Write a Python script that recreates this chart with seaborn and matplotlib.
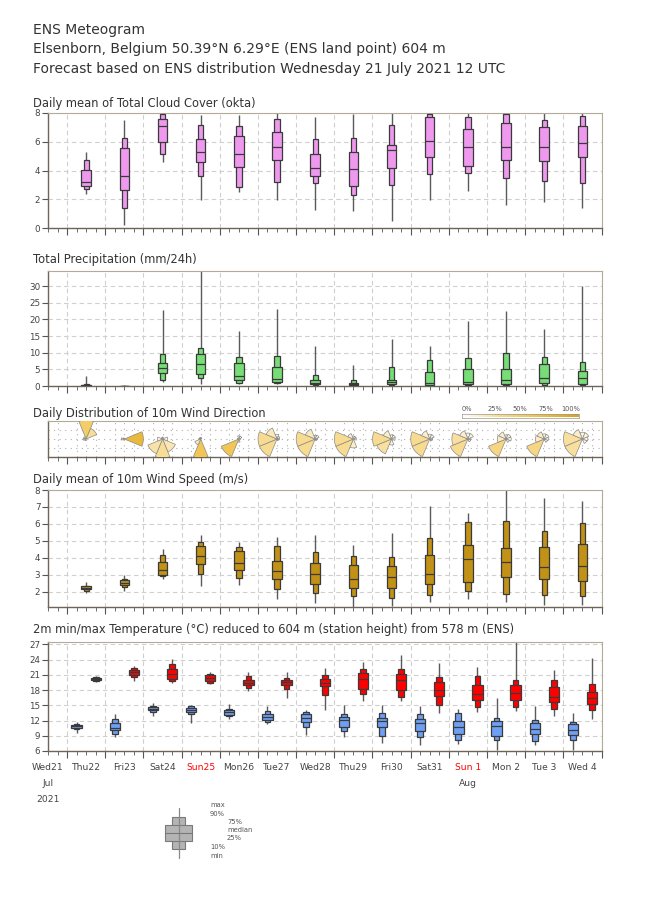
import numpy as np
import pandas as pd
import matplotlib
matplotlib.use("Agg")
import matplotlib.pyplot as plt
import seaborn as sns
from matplotlib.patches import Polygon, Rectangle
from matplotlib.colors import LinearSegmentedColormap

sns.set_theme(style="white")
plt.rcParams['font.family'] = ['DejaVu Sans']

# ---- data ----
day_labels = ['Wed21', 'Thu22', 'Fri23', 'Sat24', 'Sun25', 'Mon26', 'Tue27', 'Wed28',
              'Thu29', 'Fri30', 'Sat31', 'Sun 1', 'Mon 2', 'Tue 3', 'Wed 4']
sunday_idx = [4, 11]
day_pos = np.arange(1, 15)          # daily boxes at 12 UTC (days after Wed21 12 UTC)

# total cloud cover (okta)
cc_max = [5.31, 7.53, 7.95, 7.86, 7.86, 8.0, 7.74, 7.93, 8.0, 8.0, 8.0, 8.0, 8.0, 8.0]
cc_p90 = [4.76, 6.25, 7.9, 7.16, 7.09, 7.55, 6.2, 6.25, 7.18, 7.95, 7.69, 7.9, 7.5, 7.79]
cc_p75 = [4.06, 5.57, 7.58, 6.18, 6.41, 6.67, 5.13, 5.31, 5.8, 7.69, 6.92, 7.27, 7.06, 7.13]
cc_med = [3.22, 3.64, 7.09, 5.27, 5.17, 5.66, 4.2, 4.08, 5.45, 6.06, 5.66, 5.66, 5.66, 5.94]
cc_p25 = [2.94, 2.66, 6.01, 4.62, 4.24, 4.71, 3.61, 2.94, 4.17, 4.94, 4.34, 4.73, 4.69, 4.92]
cc_p10 = [2.70, 1.42, 5.17, 3.64, 2.84, 3.22, 3.10, 2.33, 3.0, 3.78, 3.82, 3.47, 3.29, 3.12]
cc_min = [2.35, 0.19, 4.59, 1.98, 2.49, 1.93, 1.24, 1.17, 0.51, 1.96, 2.56, 1.59, 1.82, 1.38]

# total precipitation (mm/24h)
pr_max = [3.0, 0.2, 22.8, 36.0, 16.6, 23.0, 12.0, 6.3, 14.1, 12.0, 19.5, 22.5, 17.0, 30.0]
pr_p90 = [0.6, 0.1, 9.5, 11.5, 8.6, 8.9, 3.4, 1.7, 5.8, 7.7, 8.3, 10.0, 8.7, 7.3]
pr_p75 = [0.4, 0.05, 7.0, 9.5, 7.0, 5.6, 1.8, 1.0, 1.8, 4.2, 5.0, 5.2, 6.5, 4.4]
pr_med = [0.2, 0.02, 5.3, 6.5, 3.0, 2.2, 1.0, 0.7, 1.1, 1.0, 1.1, 1.8, 2.3, 2.4]
pr_p25 = [0.05, 0.0, 3.8, 3.5, 1.7, 1.2, 0.5, 0.3, 0.5, 0.4, 0.5, 0.5, 0.8, 0.5]
pr_p10 = [0.0, 0.0, 1.8, 2.3, 1.0, 0.8, 0.3, 0.1, 0.2, 0.1, 0.2, 0.2, 0.3, 0.2]
pr_min = [0.0, 0.0, 1.1, 0.5, 0.6, 0.5, 0.1, 0.0, 0.0, 0.0, 0.0, 0.0, 0.0, 0.0]

# wind direction frequencies per sector (sector points towards N, NE, ... on the plot)
wd_N = [0.50, 0.03, 0.03, 0.05, 0.10, 0.08, 0.06, 0.05, 0.07, 0.08, 0.10, 0.08, 0.10, 0.10]
wd_NE = [0.30, 0.02, 0.02, 0.04, 0.10, 0.05, 0.07, 0.05, 0.07, 0.08, 0.10, 0.10, 0.10, 0.10]
wd_E = [0.00, 0.75, 0.08, 0.00, 0.05, 0.04, 0.04, 0.05, 0.06, 0.05, 0.05, 0.10, 0.08, 0.08]
wd_SE = [0.00, 0.00, 0.22, 0.00, 0.00, 0.03, 0.03, 0.00, 0.00, 0.04, 0.05, 0.07, 0.07, 0.07]
wd_S = [0.00, 0.00, 0.30, 0.60, 0.10, 0.00, 0.00, 0.15, 0.10, 0.00, 0.00, 0.00, 0.00, 0.00]
wd_SW = [0.05, 0.05, 0.25, 0.20, 0.60, 0.32, 0.32, 0.32, 0.27, 0.32, 0.32, 0.37, 0.37, 0.28]
wd_W = [0.08, 0.12, 0.08, 0.06, 0.05, 0.32, 0.32, 0.32, 0.32, 0.32, 0.27, 0.17, 0.17, 0.28]
wd_NW = [0.07, 0.05, 0.02, 0.05, 0.00, 0.20, 0.18, 0.10, 0.15, 0.15, 0.15, 0.15, 0.15, 0.15]
sector_angles = [0, 45, 90, 135, 180, 225, 270, 315]

# 10m wind speed (m/s)
ws_max = [2.56, 2.96, 4.52, 5.36, 4.96, 5.2, 5.36, 4.76, 5.46, 7.06, 6.66, 8.0, 7.5, 7.38]
ws_p90 = [2.36, 2.76, 4.16, 4.96, 4.66, 4.7, 4.32, 4.08, 4.02, 5.14, 6.12, 6.2, 5.6, 6.06]
ws_p75 = [2.32, 2.7, 3.76, 4.7, 4.42, 3.84, 3.7, 3.6, 3.5, 4.18, 4.76, 4.58, 4.66, 4.82]
ws_med = [2.24, 2.54, 3.3, 4.08, 3.72, 3.22, 3.06, 2.78, 2.86, 3.04, 3.96, 3.78, 3.46, 3.54]
ws_p25 = [2.14, 2.4, 2.98, 3.66, 3.3, 2.76, 2.46, 2.2, 2.24, 2.46, 2.58, 2.88, 2.76, 2.64]
ws_p10 = [2.06, 2.3, 2.9, 3.04, 2.82, 2.18, 1.94, 1.76, 1.62, 1.82, 2.06, 1.84, 1.8, 1.74]
ws_min = [1.92, 2.02, 2.76, 2.32, 2.42, 1.56, 1.36, 1.1, 1.18, 1.4, 1.56, 1.4, 1.2, 1.22]

# 2m minimum temperature (06 UTC) and maximum temperature (18 UTC)
tn_pos = day_pos - 0.25
tx_pos = day_pos + 0.25
tn_max = [11.66, 13.24, 15.35, 15.08, 15.22, 14.82, 14.16, 15.02, 15.15, 14.95, 14.23, 16.4, 14.95, 13.5]
tn_p90 = [11.33, 12.25, 14.95, 14.76, 14.3, 13.83, 13.7, 13.31, 13.5, 13.24, 13.5, 12.58, 12.19, 11.79]
tn_p75 = [11.2, 11.53, 14.69, 14.56, 14.03, 13.37, 13.24, 12.65, 12.58, 12.25, 11.99, 11.92, 11.59, 11.4]
tn_med = [10.87, 10.6, 14.36, 14.16, 13.64, 12.78, 12.58, 12.19, 11.92, 11.46, 10.74, 10.87, 10.28, 10.21]
tn_p25 = [10.6, 10.08, 14.03, 13.64, 13.18, 12.19, 11.66, 10.74, 10.67, 9.88, 9.42, 8.9, 9.29, 9.22]
tn_p10 = [10.34, 9.42, 13.64, 13.24, 12.91, 11.66, 10.74, 9.88, 9.03, 8.83, 8.24, 8.24, 7.97, 8.24]
tn_min = [9.62, 8.7, 12.91, 11.53, 12.38, 11.33, 9.1, 8.76, 7.65, 7.12, 7.45, 6.13, 7.25, 6.26]

tx_max = [20.75, 22.65, 24.1, 21.47, 21.6, 21.47, 22.3, 23.44, 24.89, 23.24, 22.52, 28.5, 21.93, 24.3]
tx_p90 = [20.48, 22.33, 23.05, 21.14, 20.81, 20.42, 21.0, 22.13, 22.13, 20.48, 20.68, 20.02, 19.89, 19.17]
tx_p75 = [20.35, 21.93, 22.06, 20.88, 19.96, 20.02, 20.2, 21.27, 21.07, 19.56, 18.97, 18.9, 18.57, 17.58]
tx_med = [20.15, 21.47, 21.07, 20.35, 19.43, 19.5, 19.4, 20.22, 19.96, 17.92, 17.12, 17.45, 16.66, 16.4]
tx_p25 = [19.9, 20.88, 20.22, 19.69, 18.9, 18.9, 18.8, 18.18, 17.98, 16.73, 15.94, 16.0, 15.61, 15.28]
tx_p10 = [19.76, 20.48, 19.82, 19.36, 18.37, 18.11, 17.0, 17.12, 16.53, 15.08, 14.62, 14.69, 14.36, 14.16]
tx_min = [19.5, 19.76, 19.36, 19.1, 17.85, 16.47, 14.0, 15.8, 15.87, 13.5, 13.7, 13.9, 12.85, 12.25]

# ---- figure ----
W, H = 650, 916
fig = plt.figure(figsize=(W / 100, H / 100), dpi=100)
XMAX = 14.5
TXT = '#333333'


def panel(top, bottom):
    ax = fig.add_axes([48 / W, 1 - bottom / H, 553.5 / W, (bottom - top) / H])
    ax.set_xlim(0, XMAX)
    ax.set_xticks(np.arange(0.5, XMAX + 0.01, 1))
    ax.set_xticks(np.arange(0, XMAX + 0.01, 0.25), minor=True)
    ax.tick_params(axis='x', which='major', length=5, width=0.8, color='#555', labelbottom=False, bottom=True)
    ax.tick_params(axis='x', which='minor', length=3, width=0.6, color='#555', bottom=True)
    ax.tick_params(axis='y', length=4, width=0.8, color='#555', labelsize=6.3, labelcolor='#444', pad=1.5, left=True)
    for s in ['left', 'bottom']:
        ax.spines[s].set_color('#6e6557')
        ax.spines[s].set_linewidth(1.0)
    for s in ['top', 'right']:
        ax.spines[s].set_color('#b3aa9c')
        ax.spines[s].set_linewidth(0.8)
    ax.grid(True, which='major', color='#cfcfcf', linestyle=(0, (4, 3)), linewidth=0.8)
    ax.set_axisbelow(True)
    return ax


def title(y, s):
    fig.text(33 / W, 1 - y / H, s, fontsize=8.3, color=TXT, va='center')


def boxes(ax, x, mn, p10, p25, med, p75, p90, mx, color, wide=0.25, narrow=0.14):
    ax.vlines(x, mn, mx, color='#5a5a5a', lw=1.0, zorder=2)
    ax.bar(x, np.subtract(p90, p10), bottom=p10, width=narrow, color=color,
           edgecolor='#3a3a3a', linewidth=0.9, zorder=3)
    ax.bar(x, np.subtract(p75, p25), bottom=p25, width=wide, color=color,
           edgecolor='#3a3a3a', linewidth=0.9, zorder=4)
    ax.hlines(med, np.asarray(x) - wide / 2, np.asarray(x) + wide / 2, color='#3a3a3a', lw=0.9, zorder=5)


# header
fig.text(33 / W, 1 - 30 / H, 'ENS Meteogram', fontsize=10, color=TXT, va='center')
fig.text(33 / W, 1 - 49.5 / H, 'Elsenborn, Belgium 50.39°N 6.29°E (ENS land point) 604 m',
         fontsize=10, color=TXT, va='center')
fig.text(33 / W, 1 - 69 / H, 'Forecast based on ENS distribution Wednesday 21 July 2021 12 UTC',
         fontsize=10, color=TXT, va='center')

# cloud cover
ax1 = panel(113, 228)
title(103, 'Daily mean of Total Cloud Cover (okta)')
ax1.set_ylim(0, 8)
ax1.set_yticks([0, 2, 4, 6, 8])
boxes(ax1, day_pos, cc_min, cc_p10, cc_p25, cc_med, cc_p75, cc_p90, cc_max, '#ee99ee')

# precipitation
ax2 = panel(271, 386)
title(260, 'Total Precipitation (mm/24h)')
ax2.set_ylim(0, 34.5)
ax2.set_yticks(np.arange(0, 31, 5))
boxes(ax2, day_pos, pr_min, pr_p10, pr_p25, pr_med, pr_p75, pr_p90, pr_max, '#77dd77')

# wind direction roses
ax3 = panel(421, 457)
title(413, 'Daily Distribution of 10m Wind Direction')
ax3.set_ylim(-1, 1)
ax3.set_yticks([-0.5, 0, 0.5])
ax3.tick_params(axis='y', left=False, labelleft=False)
ax3.grid(False)
ax3.set_xticks(np.arange(0, XMAX + 0.01, 0.25), minor=True)
ax3.grid(True, which='minor', axis='x', color='#b0b0b0', linestyle=(0, (1, 4)), linewidth=0.8)
ax3.grid(True, which='major', axis='y', color='#b0b0b0', linestyle=(0, (1, 4)), linewidth=0.8)

rose_cmap = LinearSegmentedColormap.from_list('rose', ['#ffffff', '#f7d98a', '#efc146', '#d9a21a'])
px_x = ax3.get_position().width * W / XMAX
px_y = ax3.get_position().height * H / 2.0
wd = pd.DataFrame({'N': wd_N, 'NE': wd_NE, 'E': wd_E, 'SE': wd_SE,
                   'S': wd_S, 'SW': wd_SW, 'W': wd_W, 'NW': wd_NW})
R = 19.0
for i, (_, row) in enumerate(wd.iterrows()):
    cx = day_pos[i]
    fmax = row.max()
    for ang, f in zip(sector_angles, row.values):
        if f <= 0:
            continue
        r = R * f / fmax
        th = np.radians(np.linspace(ang - 22.5, ang + 22.5, 10))
        xs = np.concatenate([[cx], cx + r * np.sin(th) / px_x])
        ys = np.concatenate([[0], r * np.cos(th) / px_y])
        ax3.add_patch(Polygon(np.column_stack([xs, ys]), closed=True,
                              facecolor=rose_cmap(f), edgecolor='#8a8a8a', linewidth=0.5, zorder=3))

# colour legend for the roses
cax = fig.add_axes([462 / W, 1 - 417.5 / H, 117 / W, 3.5 / H])
cax.imshow(np.linspace(0, 1, 256)[None, :], aspect='auto', cmap=rose_cmap)
cax.set_xticks([])
cax.set_yticks([])
for s in cax.spines.values():
    s.set_color('#999')
    s.set_linewidth(0.5)
for xp, lab in zip([467, 494.7, 520.3, 545.7, 570.7], ['0%', '25%', '50%', '75%', '100%']):
    fig.text(xp / W, 1 - 409 / H, lab, fontsize=4.8, color='#555', ha='center', va='center')

# wind speed
ax4 = panel(490, 607)
title(480, 'Daily mean of 10m Wind Speed (m/s)')
ax4.set_ylim(1.1, 8)
ax4.set_yticks(np.arange(2, 9, 1))
boxes(ax4, day_pos, ws_min, ws_p10, ws_p25, ws_med, ws_p75, ws_p90, ws_max, '#c19216')

# temperature
ax5 = panel(642, 751)
title(630, '2m min/max Temperature (°C) reduced to 604 m (station height) from 578 m (ENS)')
ax5.set_ylim(6, 27.45)
ax5.set_yticks(np.arange(6, 28, 3))
boxes(ax5, tn_pos, tn_min, tn_p10, tn_p25, tn_med, tn_p75, tn_p90, tn_max, '#6f9ff2', wide=0.27, narrow=0.15)
boxes(ax5, tx_pos, tx_min, tx_p10, tx_p25, tx_med, tx_p75, tx_p90, tx_max, '#ff0000', wide=0.27, narrow=0.15)

# day labels under the bottom panel
for i, lab in enumerate(day_labels):
    ax5.annotate(lab, xy=(i, 0), xycoords=('data', 'axes fraction'), xytext=(0, -16),
                 textcoords='offset pixels', ha='center', va='center', fontsize=6.6,
                 color='#ff0000' if i in sunday_idx else '#444')
ax5.annotate('Jul', xy=(0, 0), xycoords=('data', 'axes fraction'), xytext=(0, -33),
             textcoords='offset pixels', ha='center', va='center', fontsize=6.6, color='#444')
ax5.annotate('2021', xy=(0, 0), xycoords=('data', 'axes fraction'), xytext=(0, -48),
             textcoords='offset pixels', ha='center', va='center', fontsize=6.6, color='#444')
ax5.annotate('Aug', xy=(11, 0), xycoords=('data', 'axes fraction'), xytext=(0, -33),
             textcoords='offset pixels', ha='center', va='center', fontsize=6.6, color='#444')

# box legend
lax = fig.add_axes([0, 0, 1, 1], facecolor='none')
lax.set_xlim(0, W)
lax.set_ylim(H, 0)
lax.axis('off')
lax.plot([178.5, 178.5], [808, 858], color='#888', lw=0.9)
lax.add_patch(Rectangle((172, 817), 13, 32, facecolor='#b4b4b4', edgecolor='#7a7a7a', lw=0.8))
lax.add_patch(Rectangle((165, 825), 27, 16, facecolor='#b4b4b4', edgecolor='#7a7a7a', lw=0.8))
lax.plot([165, 192], [833, 833], color='#7a7a7a', lw=0.8)
for (xp, yp, s) in [(210, 805, 'max'), (210, 813.5, '90%'), (227, 822, '75%'), (227, 830, 'median'),
                    (227, 838, '25%'), (210, 847, '10%'), (210, 856, 'min')]:
    lax.text(xp, yp, s, fontsize=4.9, color='#555', va='center')

fig.savefig('out.png', dpi=100)
